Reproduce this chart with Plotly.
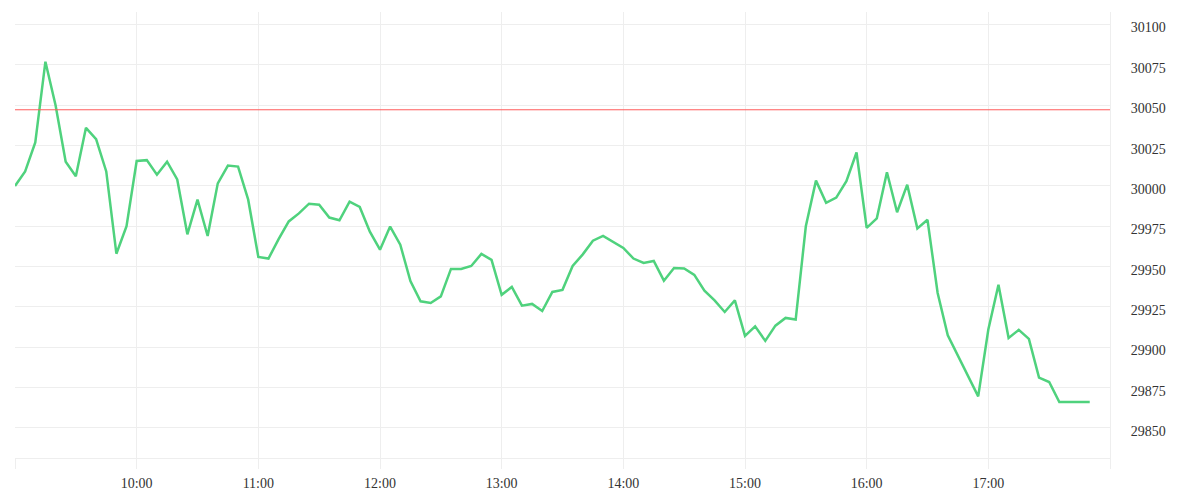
import plotly.graph_objects as go

times = [
    "09:00", "09:05", "09:10", "09:15", "09:20", "09:25", "09:30", "09:35", "09:40", "09:45", "09:50", "09:55",
    "10:00", "10:05", "10:10", "10:15", "10:20", "10:25", "10:30", "10:35", "10:40", "10:45", "10:50", "10:55",
    "11:00", "11:05", "11:10", "11:15", "11:20", "11:25", "11:30", "11:35", "11:40", "11:45", "11:50", "11:55",
    "12:00", "12:05", "12:10", "12:15", "12:20", "12:25", "12:30", "12:35", "12:40", "12:45", "12:50", "12:55",
    "13:00", "13:05", "13:10", "13:15", "13:20", "13:25", "13:30", "13:35", "13:40", "13:45", "13:50", "13:55",
    "14:00", "14:05", "14:10", "14:15", "14:20", "14:25", "14:30", "14:35", "14:40", "14:45", "14:50", "14:55",
    "15:00", "15:05", "15:10", "15:15", "15:20", "15:25", "15:30", "15:35", "15:40", "15:45", "15:50", "15:55",
    "16:00", "16:05", "16:10", "16:15", "16:20", "16:25", "16:30", "16:35", "16:40", "16:55",
    "17:00", "17:05", "17:10", "17:15", "17:20", "17:25", "17:30", "17:35", "17:40", "17:45", "17:50",
]
prices = [
    30000, 30009, 30027, 30077, 30050, 30015, 30006, 30036, 30029, 30009, 29958, 29975,
    30015.5, 30016, 30007, 30015, 30004, 29970, 29991.5, 29969, 30001.6, 30012.6, 30012, 29991.5,
    29956, 29955, 29967, 29978, 29983, 29989, 29988.4, 29980.4, 29978.7, 29990.3, 29987, 29971.7,
    29960.5, 29974.8, 29963.6, 29941, 29928.5, 29927.5, 29931.6, 29948.6, 29948.6, 29950.4, 29957.9, 29954.2,
    29932.5, 29937.4, 29925.8, 29926.9, 29922.5, 29934.3, 29935.6, 29950.4, 29957.6, 29966.1, 29969, 29965.3,
    29961.6, 29955, 29952.3, 29953.5, 29941.3, 29949.2, 29948.8, 29944.9, 29935.1, 29929.1, 29921.9, 29929.1,
    29907.1, 29913, 29904, 29913.4, 29918.2, 29917.2, 29975, 30003.3, 29989.5, 29992.8, 30002.9, 30020.7,
    29974, 29979.9, 30008.5, 29983.7, 30000.8, 29973.7, 29979, 29933.7, 29907.4, 29869.6,
    29911, 29938.8, 29905.8, 29910.8, 29905.2, 29881.2, 29878.5, 29866.1, 29866.1, 29866.1, 29866.1,
]
reference_price = 30047.2
hour_ticks = ["09:00", "10:00", "11:00", "12:00", "13:00", "14:00", "15:00", "16:00", "17:00", "18:00"]
hour_labels = ["", "10:00", "11:00", "12:00", "13:00", "14:00", "15:00", "16:00", "17:00", ""]
y_ticks = [29850, 29875, 29900, 29925, 29950, 29975, 30000, 30025, 30050, 30075, 30100]
y_labels = [str(v) for v in y_ticks]

day = "2024-01-02 "
xs = [day + t for t in times]
tick_x = [day + t for t in hour_ticks]

fig = go.Figure()
fig.add_trace(go.Scatter(
    x=xs, y=prices, mode="lines",
    line=dict(color="#4fd27d", width=2.5),
    hoverinfo="skip", showlegend=False,
))
fig.add_trace(go.Scatter(
    x=[tick_x[0], tick_x[-1]], y=[reference_price, reference_price], mode="lines",
    line=dict(color="#ff5b5b", width=1),
    hoverinfo="skip", showlegend=False,
))

grid = "#eeeeee"
font = dict(family="'Liberation Serif', 'DejaVu Serif', serif", size=14, color="#333333")
fig.update_layout(
    width=1192, height=492,
    margin=dict(l=7, r=90, t=4, b=42),
    paper_bgcolor="white", plot_bgcolor="white",
    font=font,
    xaxis=dict(
        type="date",
        range=[tick_x[0], tick_x[-1]],
        tickmode="array", tickvals=tick_x, ticktext=hour_labels,
        showgrid=True, gridcolor=grid, gridwidth=1,
        ticks="outside", ticklen=10, tickcolor=grid, tickwidth=1,
        ticklabelstandoff=2,
        showline=True, linecolor=grid, linewidth=1,
        zeroline=False, automargin=False,
        tickfont=font,
    ),
    yaxis=dict(
        side="right",
        range=[29831.4, 30107.8],
        tickmode="array", tickvals=y_ticks, ticktext=y_labels,
        showgrid=True, gridcolor=grid, gridwidth=1,
        ticks="", ticklabelstandoff=17, ticklabelshift=3,
        showline=True, linecolor=grid, linewidth=1,
        zeroline=False, automargin=False,
        tickfont=font,
    ),
)

fig.write_html("out.html")
